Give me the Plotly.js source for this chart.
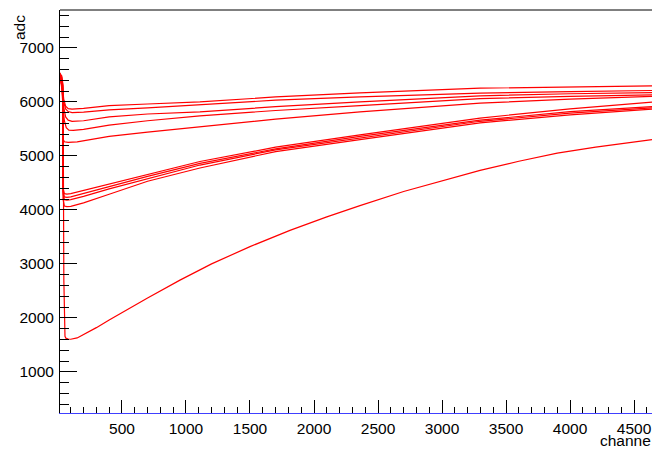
<!DOCTYPE html>
<html>
<head>
<meta charset="utf-8">
<script src="https://cdn.plot.ly/plotly-3.0.1.min.js"></script>
<style>html,body{margin:0;padding:0;background:#fff;}#chart{width:652px;height:450px;}</style>
</head>
<body>
<div id="chart"></div>
<script>
// Upper group (5 curves)
const xUpper = [16, 30, 45, 60, 80, 110, 200, 400, 700, 1109, 1700, 2359, 3297, 4000, 4640];
const yU1 = [6540, 6400, 6050, 5920, 5875, 5865, 5880, 5930, 5960, 6000, 6090, 6167, 6253, 6280, 6296];
const yU2 = [6520, 6350, 6000, 5870, 5820, 5800, 5810, 5850, 5890, 5950, 6030, 6090, 6160, 6190, 6210];
const yU3 = [6500, 6300, 5900, 5720, 5660, 5640, 5650, 5720, 5775, 5815, 5910, 6000, 6110, 6150, 6170];
const xU4 = [16, 30, 40, 50, 65, 85, 120, 200, 400, 700, 1109, 1700, 2359, 3297, 4000, 4640];
const yU4 = [6480, 6250, 5900, 5650, 5520, 5475, 5470, 5490, 5570, 5650, 5740, 5840, 5930, 6060, 6100, 6130];
const xU5 = [16, 30, 40, 42, 50, 80, 150, 400, 700, 1109, 1700, 2359, 3297, 4000, 4640];
const yU5 = [6450, 6300, 6000, 5300, 5260, 5250, 5260, 5360, 5440, 5537, 5680, 5815, 5976, 6050, 6100];
// Middle group (4 curves)
const xMid = [16, 30, 38, 40, 50, 70, 100, 200, 400, 700, 1109, 1700, 2359, 3297, 4000, 4640];
const yM1 = [6500, 6450, 6300, 4400, 4300, 4290, 4300, 4360, 4480, 4650, 4895, 5160, 5390, 5700, 5870, 5994];
const yM2 = [6480, 6420, 6250, 4350, 4240, 4230, 4240, 4300, 4430, 4620, 4860, 5130, 5360, 5660, 5820, 5913];
const yM3 = [6470, 6400, 6200, 4300, 4190, 4180, 4190, 4250, 4390, 4580, 4830, 5110, 5330, 5640, 5790, 5890];
const yM4 = [6460, 6380, 6150, 4200, 4070, 4060, 4065, 4130, 4290, 4530, 4775, 5080, 5300, 5610, 5760, 5864];
// Lowest curve
const xLow = [16, 30, 40, 46, 55, 62, 80, 100, 150, 200, 300, 400, 523, 700, 953, 1200, 1500, 1812, 2100, 2359, 2700, 3000, 3297, 3600, 3900, 4200, 4640];
const yLow = [6520, 6480, 6300, 2700, 1660, 1625, 1610, 1605, 1630, 1690, 1820, 1960, 2130, 2370, 2700, 3000, 3320, 3620, 3870, 4080, 4340, 4540, 4730, 4900, 5050, 5160, 5300];

const xTitle = "channe";
const yTitle = "adc";

const series = [
  [xUpper, yU1], [xUpper, yU2], [xUpper, yU3], [xU4, yU4], [xU5, yU5],
  [xMid, yM1], [xMid, yM2], [xMid, yM3], [xMid, yM4], [xLow, yLow]
];

const traces = series.map(s => ({
  x: s[0], y: s[1], type: 'scatter', mode: 'lines',
  line: {color: '#ff0000', width: 1.2}, hoverinfo: 'skip'
}));

const font = {family: 'Liberation Sans, Arial, Helvetica, sans-serif', size: 15.5, color: '#000'};

const layout = {
  width: 652, height: 450,
  margin: {l: 60, r: 0, t: 10, b: 37, pad: 0},
  paper_bgcolor: '#fff', plot_bgcolor: '#fff',
  showlegend: false,
  font: font,
  xaxis: {
    range: [16, 4640], showgrid: false, zeroline: false,
    showline: true, linecolor: '#4040ff', linewidth: 1,
    ticks: 'inside', ticklen: 13, tickwidth: 1, tickcolor: '#000',
    tickmode: 'linear', tick0: 0, dtick: 500,
    minor: {ticks: 'inside', ticklen: 6, tickwidth: 1, tickcolor: '#000', tick0: 0, dtick: 100, showgrid: false},
    tickfont: font, ticklabelstandoff: 1
  },
  yaxis: {
    range: [240, 7700], showgrid: false, zeroline: false,
    showline: true, linecolor: '#000', linewidth: 1,
    ticks: 'inside', ticklen: 17, tickwidth: 1, tickcolor: '#000',
    tickmode: 'linear', tick0: 0, dtick: 1000,
    minor: {ticks: 'inside', ticklen: 9, tickwidth: 1, tickcolor: '#000', tick0: 0, dtick: 200, showgrid: false},
    tickfont: font, ticklabelstandoff: 2
  },
  shapes: [
    {type: 'line', xref: 'paper', yref: 'paper', x0: 0, x1: 1, y0: 1, y1: 1, line: {color: '#000', width: 1}}
  ],
  annotations: [
    {text: xTitle, xref: 'paper', yref: 'paper', x: 1, y: -0.0918, xanchor: 'right', yanchor: 'bottom', borderpad: 0, showarrow: false, font: font},
    {text: yTitle, xref: 'paper', yref: 'paper', x: -0.068, y: 0.993, xanchor: 'center', yanchor: 'top', textangle: -90, showarrow: false, font: font}
  ]
};

Plotly.newPlot('chart', traces, layout, {staticPlot: true, displayModeBar: false});
</script>
</body>
</html>
